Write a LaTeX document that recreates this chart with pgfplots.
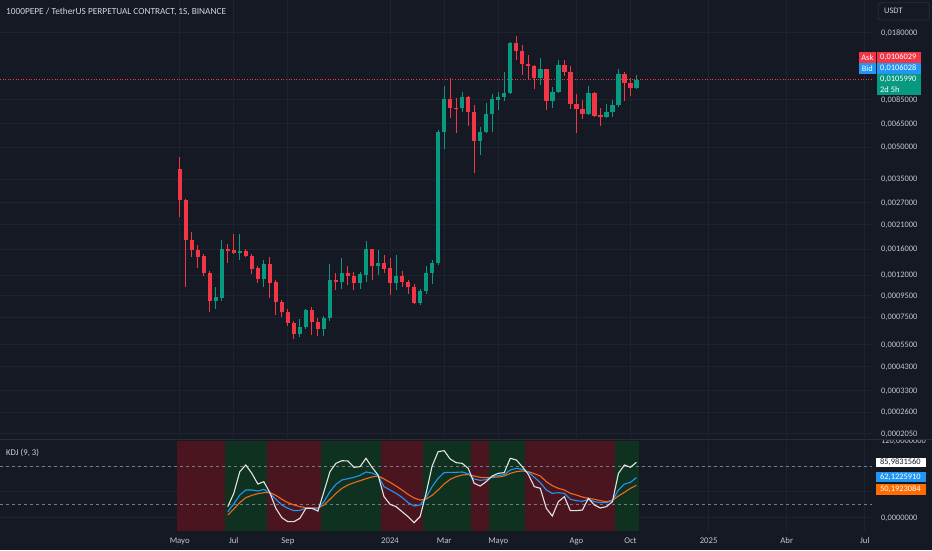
\documentclass[border=0pt]{standalone}
\usepackage{pgfplots}
\pgfplotsset{compat=1.18}
\usepackage{pgfplotstable}
\usepackage{fontspec}
\setmainfont{Carlito}

\definecolor{bgc}{HTML}{151924}
\definecolor{gridc}{HTML}{1F2330}
\definecolor{axtext}{HTML}{C4C7CE}
\definecolor{titlec}{HTML}{D1D4DC}
\definecolor{cup}{HTML}{089981}
\definecolor{cdn}{HTML}{F23645}
\definecolor{kcol}{HTML}{2196F3}
\definecolor{dcol}{HTML}{EC6B1E}
\definecolor{dbox}{HTML}{FF6D00}
\definecolor{jcol}{HTML}{E3E3E3}
\definecolor{bandr}{HTML}{4B1520}
\definecolor{bandg}{HTML}{0E321F}
\definecolor{dashc}{HTML}{787B86}
\definecolor{sepc}{HTML}{2A2E39}

\pgfplotstableread{
i K D J
8 9.1 3.9 16.9
9 21 13.2 37.6
10 35 23.1 71.3
11 42.8 30.9 81.7
12 42.8 34.5 68.7
13 41.2 37.1 52.1
14 43.8 38.6 55.7
15 37.5 38.8 38.6
16 28.3 34.5 14.3
17 19.5 28.3 -0.3
18 14.3 23.1 -6.5
19 10.6 19.5 -6.5
20 11.2 16.9 -1.3
21 14.3 15.3 14.3
22 14.4 15.0 14.3
23 14.0 14.6 10.1
24 24.6 19.5 40.2
25 40.2 28.3 71.3
26 51.6 37.6 84.3
27 58.4 45.4 88.4
28 60.4 50.6 87.9
29 62.5 54.2 78.1
30 65.6 57.3 79.1
31 70.8 60.4 92.1
32 69.2 63.0 78.1
33 65.1 64.6 66.1
34 48 59.9 32.4
35 42.8 54.7 20.5
36 37.6 49 16.9
37 31.4 42.8 9.1
38 23.1 36 1.3
39 17.9 30.3 -8
40 19.5 27.2 1.3
41 31.4 28.8 38
42 48 34.5 80
43 61 42.8 102.4
44 69.8 52.1 104
45 70.3 59.4 91
46 70.3 63.5 85.3
47 70.8 66.1 84.3
48 68 66.8 76.5
49 59.9 64.6 53.2
50 57.8 62.5 49
51 58.9 62 55.8
52 63.5 62.5 64.6
53 65.1 63 68.7
54 66.7 64.6 69.8
55 73.9 68.7 92.1
56 76.5 71.3 89.5
57 74.9 72.4 79.1
58 70.8 71.3 67.2
59 62.5 68.2 48
60 54.2 64.6 45.4
61 42.8 55.8 14.3
62 37.6 49.5 2.3
63 38.6 45.4 24.6
64 37.6 42.8 32.4
65 28.3 37.6 10.6
66 26.2 35 10.6
67 25.2 31.9 11.7
68 28.3 29.8 29.8
69 24.6 28.3 19.5
70 23.1 26.2 14.8
71 23.1 24.6 16.9
72 26.2 26.7 24.6
73 42.8 33.5 68.7
74 52.1 39.2 81.7
75 54.7 45.4 78.1
76 62.1225910 50.1923084 85.9831560
}\kdj

\newcommand{\lblfont}{\fontsize{8.4}{10}\selectfont}

\begin{document}
\begin{tikzpicture}
\fill[bgc] (0pt,0pt) rectangle (932pt,550pt);

% ---------------- main price pane ----------------
\begin{axis}[
  at={(0pt,112pt)}, anchor=south west,
  scale only axis, width=872pt, height=438pt,
  xmin=-29.9, xmax=115.19,
  ymode=log, ymin=0.0001945, ymax=0.02582,
  axis line style={draw=none},
  major tick length=0pt,
  xtick={0,9,18,35,44,53,66,75,88,101,114},
  xticklabels={},
  ytick={0.018,0.0085,0.0065,0.005,0.0035,0.0027,0.0021,0.0016,0.0012,0.00095,0.00075,0.00055,0.00043,0.00033,0.00026,0.000205},
  yticklabels={0{,}0180000,0{,}0085000,0{,}0065000,0{,}0050000,0{,}0035000,0{,}0027000,0{,}0021000,0{,}0016000,0{,}0012000,0{,}0009500,0{,}0007500,0{,}0005500,0{,}0004300,0{,}0003300,0{,}0002600,0{,}0002050},
  yticklabel pos=right,
  yticklabel style={anchor=base west, inner sep=0pt, xshift=9pt, yshift=-2.8pt, font=\lblfont, text=axtext},
  grid=major, major grid style={draw=gridc, line width=0.9pt},
  unbounded coords=jump,
]
\addplot[draw=cdn, line width=0.8pt, dash pattern=on 1pt off 1.6pt] coordinates {(-29.9,0.010599) (115.19,0.010599)};
% rising weeks: wicks (low, high)
\addplot[draw=cup, line width=1pt] coordinates {
(6,0.000820)(6,0.001045)(6,nan) (7,0.000900)(7,0.00177)(7,nan) (10,0.00142)(10,0.00189)(10,nan)
(14,0.00105)(14,0.00142)(14,nan) (20,0.000598)(20,0.000734)(20,nan) (21,0.000656)(21,0.000818)(21,nan)
(24,0.000609)(24,0.000759)(24,nan) (25,0.000720)(25,0.00135)(25,nan) (27,0.00103)(27,0.00145)(27,nan)
(30,0.00103)(30,0.00124)(30,nan) (31,0.00111)(31,0.00175)(31,nan) (33,0.00120)(33,0.00158)(33,nan)
(36,0.00102)(36,0.00150)(36,nan) (40,0.000858)(40,0.00103)(40,nan) (41,0.000970)(41,0.00132)(41,nan)
(42,0.00109)(42,0.00142)(42,nan) (43,0.00134)(43,0.00605)(43,nan) (44,0.00489)(44,0.00992)(44,nan)
(47,0.00737)(47,0.00921)(47,nan) (50,0.00458)(50,0.00623)(50,nan) (51,0.00583)(51,0.00815)(51,nan)
(52,0.00594)(52,0.00901)(52,nan) (53,0.00756)(53,0.00921)(53,nan) (54,0.00839)(54,0.0116)(54,nan)
(55,0.00901)(55,0.0162)(55,nan) (60,0.0100)(60,0.0135)(60,nan) (62,0.00776)(62,0.00974)(62,nan)
(63,0.00911)(63,0.0132)(63,nan) (68,0.00713)(68,0.00985)(68,nan) (71,0.00694)(71,0.00809)(71,nan)
(72,0.00702)(72,0.00845)(72,nan) (73,0.00785)(73,0.0120)(73,nan) (76,0.00957)(76,0.0112)};
% falling weeks: wicks (low, high)
\addplot[draw=cdn, line width=1pt] coordinates {
(0,0.00228)(0,0.00446)(0,nan) (1,0.00105)(1,0.00280)(1,nan) (2,0.00146)(2,0.00193)(2,nan)
(3,0.00129)(3,0.00168)(3,nan) (4,0.00119)(4,0.00151)(4,nan) (5,0.000796)(5,0.00126)(5,nan)
(8,0.00137)(8,0.00169)(8,nan) (9,0.00152)(9,0.00189)(9,nan) (11,0.00146)(11,0.00160)(11,nan)
(12,0.00121)(12,0.00151)(12,nan) (13,0.00110)(13,0.00133)(13,nan) (15,0.000931)(15,0.00147)(15,nan)
(16,0.000767)(16,0.00113)(16,nan) (17,0.000748)(17,0.000907)(17,nan) (18,0.000681)(18,0.000818)(18,nan)
(19,0.000587)(19,0.000718)(19,nan) (22,0.000614)(22,0.000842)(22,nan) (23,0.000609)(23,0.000742)(23,nan)
(26,0.00102)(26,0.00122)(26,nan) (28,0.00107)(28,0.00133)(28,nan) (29,0.00102)(29,0.00124)(29,nan)
(32,0.00114)(32,0.00161)(32,nan) (34,0.00123)(34,0.00150)(34,nan) (35,0.000959)(35,0.00145)(35,nan)
(37,0.00105)(37,0.00126)(37,nan) (38,0.000970)(38,0.00113)(38,nan) (39,0.000867)(39,0.00108)(39,nan)
(45,0.00689)(45,0.0108)(45,nan) (46,0.00583)(46,0.00862)(46,nan) (48,0.00635)(48,0.00884)(48,nan)
(49,0.00376)(49,0.00800)(49,nan) (56,0.0132)(56,0.0173)(56,nan) (57,0.0112)(57,0.0156)(57,nan)
(58,0.0106)(58,0.0140)(58,nan) (59,0.00953)(59,0.0125)(59,nan) (61,0.00756)(61,0.0120)(61,nan)
(64,0.0110)(64,0.0132)(64,nan) (65,0.00765)(65,0.0124)(65,nan) (66,0.00583)(66,0.00901)(66,nan)
(67,0.00684)(67,0.00845)(67,nan) (69,0.00702)(69,0.00928)(69,nan) (70,0.00635)(70,0.00771)(70,nan)
(74,0.00839)(74,0.0115)(74,nan) (75,0.00887)(75,0.0108)};
% rising weeks: bodies (open, close)
\addplot[draw=cup, line width=4.4pt] coordinates {
(6,0.000900)(6,0.000935)(6,nan) (7,0.000930)(7,0.00160)(7,nan) (10,0.00153)(10,0.00157)(10,nan)
(14,0.00115)(14,0.00136)(14,nan) (20,0.000621)(20,0.000669)(20,nan) (21,0.000669)(21,0.000811)(21,nan)
(24,0.000656)(24,0.000739)(24,nan) (25,0.000739)(25,0.00114)(25,nan) (27,0.00111)(27,0.00122)(27,nan)
(30,0.00110)(30,0.00121)(30,nan) (31,0.00120)(31,0.00160)(31,nan) (33,0.00132)(33,0.00137)(33,nan)
(36,0.00110)(36,0.00118)(36,nan) (40,0.000874)(40,0.00100)(40,nan) (41,0.00100)(41,0.00122)(41,nan)
(42,0.00122)(42,0.00137)(42,nan) (43,0.00137)(43,0.00594)(43,nan) (44,0.00590)(44,0.00855)(44,nan)
(47,0.00776)(47,0.00877)(47,nan) (50,0.00537)(50,0.00590)(50,nan) (51,0.00590)(51,0.00721)(51,nan)
(52,0.00721)(52,0.00855)(52,nan) (53,0.00850)(53,0.00874)(53,nan) (54,0.00874)(54,0.00914)(54,nan)
(55,0.00914)(55,0.0160)(55,nan) (60,0.0108)(60,0.0119)(60,nan) (62,0.00836)(62,0.00921)(62,nan)
(63,0.00921)(63,0.0125)(63,nan) (68,0.00726)(68,0.00914)(68,nan) (71,0.00702)(71,0.00737)(71,nan)
(72,0.00737)(72,0.00800)(72,nan) (73,0.00800)(73,0.0113)(73,nan) (76,0.00963)(76,0.0106)};
% falling weeks: bodies (open, close)
\addplot[draw=cdn, line width=4.4pt] coordinates {
(0,0.00391)(0,0.00277)(0,nan) (1,0.00277)(1,0.00177)(1,nan) (2,0.00177)(2,0.00158)(2,nan)
(3,0.00158)(3,0.00147)(3,nan) (4,0.00148)(4,0.00122)(4,nan) (5,0.00123)(5,0.000900)(5,nan)
(8,0.00160)(8,0.00157)(8,nan) (9,0.00158)(9,0.00153)(9,nan) (11,0.00157)(11,0.00149)(11,nan)
(12,0.00149)(12,0.00128)(12,nan) (13,0.00129)(13,0.00115)(13,nan) (15,0.00136)(15,0.00110)(15,nan)
(16,0.00111)(16,0.000890)(16,nan) (17,0.000890)(17,0.000796)(17,nan) (18,0.000796)(18,0.000699)(18,nan)
(19,0.000700)(19,0.000621)(19,nan) (22,0.000811)(22,0.000712)(22,nan) (23,0.000712)(23,0.000656)(23,nan)
(26,0.00114)(26,0.00111)(26,nan) (28,0.00122)(28,0.00118)(28,nan) (29,0.00118)(29,0.00110)(29,nan)
(32,0.00160)(32,0.00132)(32,nan) (34,0.00137)(34,0.00128)(34,nan) (35,0.00129)(35,0.00110)(35,nan)
(37,0.00118)(37,0.00111)(37,nan) (38,0.00111)(38,0.00105)(38,nan) (39,0.00105)(39,0.000874)(39,nan)
(45,0.00855)(45,0.00776)(45,nan) (46,0.00778)(46,0.00774)(46,nan) (48,0.00877)(48,0.00737)(48,nan)
(49,0.00737)(49,0.00537)(49,nan) (56,0.0160)(56,0.0146)(56,nan) (57,0.0146)(57,0.0126)(57,nan)
(58,0.0126)(58,0.0123)(58,nan) (59,0.0123)(59,0.0108)(59,nan) (61,0.0119)(61,0.00836)(61,nan)
(64,0.0125)(64,0.0116)(64,nan) (65,0.0116)(65,0.00809)(65,nan) (66,0.00809)(66,0.00765)(66,nan)
(67,0.00765)(67,0.00726)(67,nan) (69,0.00914)(69,0.00710)(69,nan) (70,0.00715)(70,0.00702)(70,nan)
(74,0.0113)(74,0.0102)(74,nan) (75,0.0102)(75,0.00963)};
\end{axis}

% ---------------- KDJ pane ----------------
\begin{axis}[
  at={(0pt,19pt)}, anchor=south west,
  scale only axis, width=872pt, height=90.5pt,
  xmin=-29.9, xmax=115.19, ymin=-21, ymax=119.8,
  axis line style={draw=none},
  major tick length=0pt,
  xtick={0,9,18,35,44,53,66,75,88,101,114},
  xticklabels={Mayo,Jul,Sep,2024,Mar,Mayo,Ago,Oct,2025,Abr,Jul},
  xticklabel style={anchor=base, inner sep=0pt, yshift=-12.5pt, font=\fontsize{8.7}{10}\selectfont, text=axtext},
  ytick={0,40,80}, yticklabels={0{,}0000000,{},{}},
  yticklabel pos=right,
  yticklabel style={anchor=base west, inner sep=0pt, xshift=9pt, yshift=-2.8pt, font=\lblfont, text=axtext},
  grid=major, major grid style={draw=gridc, line width=0.9pt},
]
\addplot[fill=bandr, draw=none] coordinates {(-0.5,-21) (7.5,-21) (7.5,119.8) (-0.5,119.8)} -- cycle;
\addplot[fill=bandg, draw=none] coordinates {(7.5,-21) (14.5,-21) (14.5,119.8) (7.5,119.8)} -- cycle;
\addplot[fill=bandr, draw=none] coordinates {(14.5,-21) (23.5,-21) (23.5,119.8) (14.5,119.8)} -- cycle;
\addplot[fill=bandg, draw=none] coordinates {(23.5,-21) (33.5,-21) (33.5,119.8) (23.5,119.8)} -- cycle;
\addplot[fill=bandr, draw=none] coordinates {(33.5,-21) (40.5,-21) (40.5,119.8) (33.5,119.8)} -- cycle;
\addplot[fill=bandg, draw=none] coordinates {(40.5,-21) (48.5,-21) (48.5,119.8) (40.5,119.8)} -- cycle;
\addplot[fill=bandr, draw=none] coordinates {(48.5,-21) (51.5,-21) (51.5,119.8) (48.5,119.8)} -- cycle;
\addplot[fill=bandg, draw=none] coordinates {(51.5,-21) (57.5,-21) (57.5,119.8) (51.5,119.8)} -- cycle;
\addplot[fill=bandr, draw=none] coordinates {(57.5,-21) (72.5,-21) (72.5,119.8) (57.5,119.8)} -- cycle;
\addplot[fill=bandg, draw=none] coordinates {(72.5,-21) (76.5,-21) (76.5,119.8) (72.5,119.8)} -- cycle;
\addplot[draw=dashc, line width=0.9pt, dash pattern=on 3pt off 3pt] coordinates {(-29.9,80) (115.19,80)};
\addplot[draw=dashc, line width=0.9pt, dash pattern=on 3pt off 3pt] coordinates {(-29.9,20) (115.19,20)};
\addplot[draw=dcol, line width=1.1pt] table[x=i, y=D] {\kdj};
\addplot[draw=kcol, line width=1.1pt] table[x=i, y=K] {\kdj};
\addplot[draw=jcol, line width=1.1pt] table[x=i, y=J] {\kdj};
\end{axis}

% pane separator and partial 120 label
\begin{scope}
\clip (872pt,0pt) rectangle (932pt,109.4pt);
\node[anchor=base west, inner sep=0pt, font=\lblfont, text=axtext] at (881pt,106.4pt) {120,0000000};
\end{scope}
\draw[sepc, line width=1.6pt] (0pt,110.5pt) -- (932pt,110.5pt);

% title and indicator label
\node[anchor=base west, inner sep=0pt, font=\fontsize{9.3}{11}\selectfont, text=titlec] at (6pt,535.5pt) {1000PEPE / TetherUS PERPETUAL CONTRACT, 1S, BINANCE};
\node[anchor=base west, inner sep=0pt, font=\fontsize{8.7}{10}\selectfont, text=titlec] at (6pt,95pt) {KDJ (9, 3)};

% currency box
\draw[sepc, fill=bgc, line width=0.8pt, rounded corners=2pt] (878.3pt,530pt) rectangle (929.3pt,547.3pt);
\node[anchor=west, inner sep=0pt, font=\fontsize{8.4}{10}\selectfont, text=titlec] at (884pt,538.7pt) {USDT};

% ask / bid / last price boxes
\fill[cdn] (859pt,487.3pt) rectangle (875.7pt,497.7pt);
\node[anchor=center, inner sep=0pt, font=\lblfont, text=white] at (867.35pt,492.5pt) {Ask};
\fill[cdn] (876.7pt,487.3pt) rectangle (921pt,497.7pt);
\node[anchor=west, inner sep=0pt, font=\lblfont, text=white] at (880pt,492.5pt) {0,0106029};
\fill[kcol] (859pt,476pt) rectangle (875.7pt,486.7pt);
\node[anchor=center, inner sep=0pt, font=\lblfont, text=white] at (867.35pt,481.4pt) {Bid};
\fill[kcol] (876.7pt,476pt) rectangle (921pt,486.7pt);
\node[anchor=west, inner sep=0pt, font=\lblfont, text=white] at (880pt,481.4pt) {0,0106028};
\fill[cup] (876.7pt,455.3pt) rectangle (921pt,476pt);
\node[anchor=west, inner sep=0pt, font=\lblfont, text=white] at (880pt,470.6pt) {0,0105990};
\node[anchor=west, inner sep=0pt, font=\lblfont, text=white] at (880pt,460.6pt) {2d 5h};

% KDJ value boxes
\fill[white] (876pt,82.7pt) rectangle (926pt,92.3pt);
\node[anchor=west, inner sep=0pt, font=\lblfont, text=bgc] at (880pt,87.5pt) {85,9831560};
\fill[kcol] (876pt,67.7pt) rectangle (926pt,77.7pt);
\node[anchor=west, inner sep=0pt, font=\lblfont, text=white] at (880pt,72.7pt) {62,1225910};
\fill[dbox] (876pt,55.3pt) rectangle (926pt,66pt);
\node[anchor=west, inner sep=0pt, font=\lblfont, text=white] at (880pt,60.6pt) {50,1923084};

\pgfresetboundingbox
\useasboundingbox (0pt,0pt) rectangle (932pt,550pt);
\end{tikzpicture}
\end{document}
